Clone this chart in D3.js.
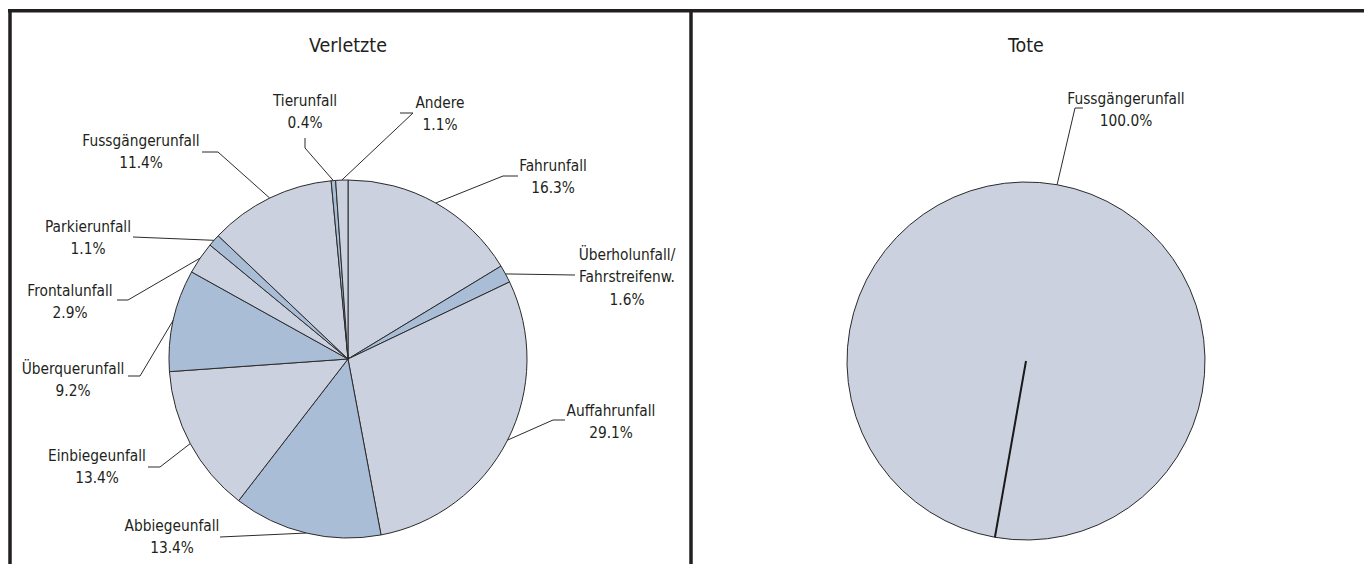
<!DOCTYPE html>
<html>
<head>
<meta charset="utf-8">
<script src="https://cdn.jsdelivr.net/npm/d3@7"></script>
<style>
  html, body { margin: 0; padding: 0; background: #fff; }
  svg { display: block; }
  text { font-family: "DejaVu Sans Condensed", "Liberation Sans Narrow", sans-serif; fill: #231f20; }
</style>
</head>
<body>
<svg id="chart" width="1364" height="564"></svg>
<script>
// ---------- data ----------
const titles = ["Verletzte", "Tote"];
const injuredCategories = ["Fahrunfall", "Überholunfall/\nFahrstreifenw.", "Auffahrunfall", "Abbiegeunfall",
  "Einbiegeunfall", "Überquerunfall", "Frontalunfall", "Parkierunfall", "Fussgängerunfall", "Tierunfall", "Andere"];
const injuredValues = [16.3, 1.6, 29.1, 13.4, 13.4, 9.2, 2.9, 1.1, 11.4, 0.4, 1.1];
const deadCategories = ["Fussgängerunfall"];
const deadValues = [100.0];

// ---------- layout (label placement, not data) ----------
// [label centre x, first line centre y, elbow x, elbow y, end x, end y]
const injuredLabelLayout = [
  [553, 165, 503, 176, 518, 176],
  [627, 254, 575, 275, 575, 275],
  [611, 410, 553, 420, 565, 420],
  [172, 525, 220, 537, 220, 537],
  [97, 455, 160, 467, 148, 467],
  [73, 368, 140, 376, 128, 376],
  [70, 290, 128, 300, 117, 300],
  [88, 226, 133, 237, 133, 237],
  [141, 140, 218, 152, 202, 152],
  [305, 100, 305, 148, 305, 138],
  [440, 102, 413, 113, 400, 113]
];
const deadLabelLayout = [
  [1126, 98, 1075, 108, 1083, 108]
];

const lightFill = "#cbd1df";
const darkFill = "#a9bdd7";
const strokeCol = "#2b2b2b";
const lineH = 22.5;

const svg = d3.select("#chart");
const R = 179;

function drawPie(cx, cy, cats, vals, layout, startDeg, title, fullLine) {
  const g = svg.append("g");
  const pie = d3.pie().sort(null).value(d => d)
    .startAngle(startDeg * Math.PI / 180)
    .endAngle((startDeg + 360) * Math.PI / 180);
  const arcs = pie(vals);
  const arc = d3.arc().innerRadius(0).outerRadius(R);
  const edge = d3.arc().innerRadius(R).outerRadius(R);

  const pg = g.append("g").attr("transform", `translate(${cx},${cy})`);
  pg.selectAll("path.slice").data(arcs).join("path")
    .attr("class", "slice")
    .attr("d", arc)
    .attr("fill", (d, i) => i % 2 === 0 ? lightFill : darkFill)
    .attr("stroke", strokeCol)
    .attr("stroke-width", 1)
    .attr("stroke-linejoin", "round");

  if (fullLine) {
    const a = arcs[0].startAngle;
    pg.append("line")
      .attr("x1", 0).attr("y1", 0)
      .attr("x2", R * Math.sin(a)).attr("y2", -R * Math.cos(a))
      .attr("stroke", "#1a1a1a").attr("stroke-width", 2);
  }

  arcs.forEach((d, i) => {
    const c = edge.centroid(d);
    const L = layout[i];
    const pts = [[cx + c[0], cy + c[1]], [L[2], L[3]], [L[4], L[5]]];
    g.append("path")
      .attr("d", d3.line()(pts))
      .attr("fill", "none")
      .attr("stroke", strokeCol)
      .attr("stroke-width", 1);
    const lines = cats[i].split("\n").concat([d3.format(".1f")(vals[i]) + "%"]);
    const t = g.append("text")
      .attr("text-anchor", "middle")
      .style("font-size", "15.3px");
    lines.forEach((s, k) => {
      t.append("tspan")
        .attr("x", L[0])
        .attr("y", L[1] + k * lineH)
        .attr("dy", "0.36em")
        .text(s);
    });
  });

  svg.append("text")
    .attr("x", cx).attr("y", 45).attr("dy", "0.36em")
    .attr("text-anchor", "middle")
    .style("font-size", "19.5px")
    .text(title);
}

drawPie(348, 359, injuredCategories, injuredValues, injuredLabelLayout, 0, titles[0], false);
drawPie(1026, 361, deadCategories, deadValues, deadLabelLayout, 190, titles[1], true);

// frame
const frame = svg.append("g").attr("stroke", "#231f20").attr("stroke-width", 3.5);
frame.append("line").attr("x1", 8).attr("y1", 10.8).attr("x2", 1364).attr("y2", 10.8);
frame.append("line").attr("x1", 10).attr("y1", 9).attr("x2", 10).attr("y2", 564);
frame.append("line").attr("x1", 691).attr("y1", 9).attr("x2", 691).attr("y2", 564);
</script>
</body>
</html>
